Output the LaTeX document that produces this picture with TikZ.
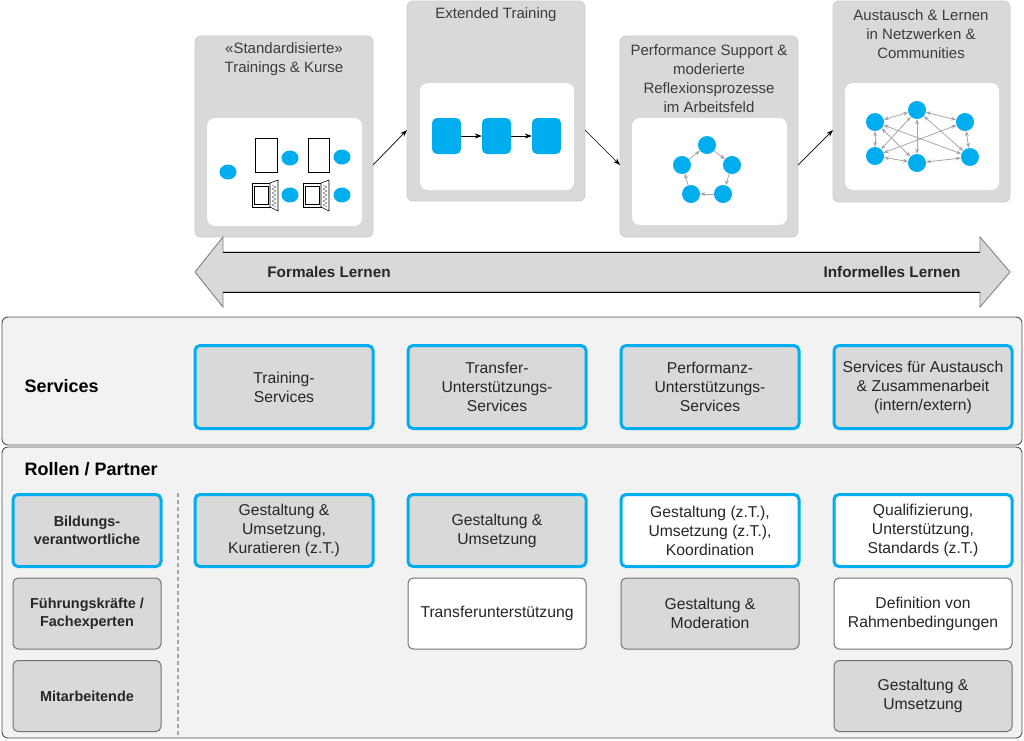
\documentclass[tikz,border=0pt]{standalone}
\usepackage{fontspec}
\setmainfont{Liberation Sans}
\usetikzlibrary{arrows.meta,shapes.geometric}
\definecolor{cy}{HTML}{00AEEF}
\definecolor{lg}{HTML}{D9D9D9}
\definecolor{pb}{HTML}{CCCCCC}
\definecolor{bg}{HTML}{F2F2F2}
\definecolor{bd}{HTML}{4D4D4D}
\definecolor{tx}{HTML}{262626}
\definecolor{ar}{HTML}{A6A6A6}
\begin{document}
\begin{tikzpicture}[x=1pt,y=-1pt,
  panel/.style={fill=lg,draw=pb,line width=0.8pt,rounded corners=6pt},
  innerbox/.style={fill=white,draw=none,rounded corners=8pt},
  ttl/.style={text=tx!90,align=center,font=\fontsize{15}{19}\selectfont},
  dot/.style={circle,fill=cy,inner sep=0pt,minimum size=18pt},
  edot/.style={ellipse,fill=cy,inner sep=0pt,minimum width=17pt,minimum height=15pt},
  sq/.style={fill=cy,rounded corners=5pt,minimum width=29pt,minimum height=36pt,inner sep=0pt},
  net/.style={ar,line width=0.8pt,{Stealth[length=5pt,width=4pt]}-{Stealth[length=5pt,width=4pt]}},
  cyc/.style={ar,line width=0.8pt,-{Stealth[length=5pt,width=4pt]}},
  flow/.style={black,line width=0.7pt,-{Stealth[length=7pt,width=5pt]}},
  bigbox/.style={fill=bg,draw=bd,line width=0.9pt,rounded corners=6pt},
  head/.style={font=\bfseries\fontsize{18}{22}\selectfont,text=black,anchor=west},
  txt/.style={align=center,text=tx,font=\fontsize{15.7}{19}\selectfont,inner sep=0pt},
  svc/.style={txt,draw=cy,line width=3pt,fill=lg,rounded corners=5pt,minimum width=178pt,minimum height=83pt},
  bluegray/.style={txt,draw=cy,line width=3pt,fill=lg,rounded corners=5pt,minimum width=178pt,minimum height=72pt},
  bluewhite/.style={txt,draw=cy,line width=3pt,fill=white,rounded corners=5pt,minimum width=178pt,minimum height=72pt},
  graybox/.style={txt,draw=bd!80,line width=1pt,fill=lg,rounded corners=5pt,minimum width=178pt,minimum height=71pt},
  whitebox/.style={txt,draw=bd!80,line width=1pt,fill=white,rounded corners=5pt,minimum width=178pt,minimum height=71pt},
  rolebox/.style={font=\bfseries\fontsize{14.4}{18}\selectfont,minimum width=148pt},
  book/.pic={
    \draw[black,line width=0.6pt] (0,0) rectangle (18,24);
    \draw[black,line width=0.6pt] (2,3) rectangle (16,21);
    \draw[black,line width=0.6pt,fill=white] (18,0) -- (26,-3) -- (26,28) -- (18,24) -- cycle;
    \draw[black!70,line width=0.4pt] (20,2) -- (24,4) -- (20,6) -- (24,8) -- (20,10) -- (24,12) -- (20,14) -- (24,16) -- (20,18) -- (24,20) -- (20,22) -- (24,24);
  }
]
\useasboundingbox (0,0) rectangle (1024,740);

% ---------- top panels ----------
\draw[panel] (195,36) rectangle (373,237);
\draw[panel] (407,1) rectangle (585,201);
\draw[panel] (620,36) rectangle (798,237);
\draw[panel] (833,1) rectangle (1010,202);
\fill[innerbox] (207,118) rectangle (362,226);
\fill[innerbox] (420,83) rectangle (574,190);
\fill[innerbox] (632,118) rectangle (787,225);
\fill[innerbox] (845,83) rectangle (999,190);

\node[ttl] (t1) at (284,59) {«Standardisierte»\\Trainings \& Kurse};
\node[ttl] (t2) at (496,15) {Extended Training};
\node[ttl] (t3) at (709,79) {Performance Support \&\\moderierte\\Reflexionsprozesse\\im Arbeitsfeld};
\node[ttl] (t4) at (921,34) {Austausch \& Lernen\\in Netzwerken \&\\Communities};

% panel 1 icons
\node[edot] (c0) at (228,172) {};
\node[edot] (c1) at (290,158) {};
\node[edot] (c2) at (342,157) {};
\node[edot] (c3) at (290,195) {};
\node[edot] (c4) at (342,195) {};
\draw[black,line width=0.8pt] (255,138) rectangle (277,172);
\draw[black,line width=0.8pt] (308,138) rectangle (329,172);
\pic at (252,183) {book};
\pic at (303,183) {book};

% panel 2
\node[sq] (s1) at (446.5,136) {};
\node[sq] (s2) at (496.5,136) {};
\node[sq] (s3) at (546.5,136) {};
\draw[flow] (s1) -- (s2);
\draw[flow] (s2) -- (s3);

% panel 3 cycle
\node[dot] (p1) at (707,145) {};
\node[dot] (p2) at (732,165) {};
\node[dot] (p3) at (723,194) {};
\node[dot] (p4) at (691,194) {};
\node[dot] (p5) at (682,165) {};
\draw[cyc] (p1) -- (p2);
\draw[cyc] (p2) -- (p3);
\draw[cyc] (p3) -- (p4);
\draw[cyc] (p4) -- (p5);
\draw[cyc] (p5) -- (p1);

% panel 4 network
\node[dot] (nA) at (875,122) {};
\node[dot] (nB) at (917,110) {};
\node[dot] (nC) at (965,122) {};
\node[dot] (nD) at (875,156) {};
\node[dot] (nE) at (917,163) {};
\node[dot] (nF) at (970,157) {};
\draw[net] (nA) -- (nB);
\draw[net] (nB) -- (nC);
\draw[net] (nA) -- (nD);
\draw[net] (nB) -- (nE);
\draw[net] (nC) -- (nF);
\draw[net] (nD) -- (nE);
\draw[net] (nE) -- (nF);
\draw[net] (nA) -- (nE);
\draw[net] (nA) -- (nF);
\draw[net] (nB) -- (nD);
\draw[net] (nB) -- (nF);
\draw[net] (nC) -- (nD);

% flow arrows between panels
\coordinate (a1s) at (373,165); \coordinate (a1e) at (407,130);
\coordinate (a2s) at (585,130); \coordinate (a2e) at (620,165);
\coordinate (a3s) at (798,165); \coordinate (a3e) at (833,130);
\draw[flow] (a1s) -- (a1e);
\draw[flow] (a2s) -- (a2e);
\draw[flow] (a3s) -- (a3e);

% ---------- big double arrow ----------
\draw[fill=lg,draw=bd!70,line width=0.9pt,line join=miter]
  (195,272) -- (223,237) -- (223,252) -- (980,252) -- (980,237) -- (1010,272)
  -- (980,307) -- (980,292) -- (223,292) -- (223,307) -- cycle;
\draw[black,line width=1pt] (223,252) -- (980,252);
\draw[black,line width=1pt] (223,292) -- (980,292);
\node[font=\bfseries\fontsize{15.3}{19}\selectfont,text=tx] (fl) at (329,272) {Formales Lernen};
\node[font=\bfseries\fontsize{15.3}{19}\selectfont,text=tx] (il) at (892,272) {Informelles Lernen};

% ---------- services ----------
\draw[bigbox] (2,317) rectangle (1022,445);
\node[head] (svh) at (21,386) {Services};
\node[svc] (sv1) at (284,387) {Training-\\Services};
\node[svc] (sv2) at (497,387) {Transfer-\\Unterstützungs-\\Services};
\node[svc] (sv3) at (710,387) {Performanz-\\Unterstützungs-\\Services};
\node[svc] (sv4) at (923,387) {Services für Austausch\\\& Zusammenarbeit\\(intern/extern)};

% ---------- roles ----------
\draw[bigbox] (2,447) rectangle (1022,738);
\node[head] (rh) at (21,469) {Rollen / Partner};
\draw[ar,line width=2pt,dash pattern=on 4pt off 3pt] (178,493) -- (178,738);

\node[bluegray,rolebox] (r1) at (87,530.5) {Bildungs-\\verantwortliche};
\node[graybox,rolebox] (r2) at (87,613.5) {Führungskräfte /\\Fachexperten};
\node[graybox,rolebox] (r3) at (87,696) {Mitarbeitende};

\node[bluegray] (b11) at (284,530.5) {Gestaltung \&\\Umsetzung,\\Kuratieren (z.T.)};
\node[bluegray] (b21) at (497,530.5) {Gestaltung \&\\Umsetzung};
\node[whitebox] (b22) at (497,613.5) {Transferunterstützung};
\node[bluewhite] (b31) at (710,530.5) {Gestaltung (z.T.),\\Umsetzung (z.T.),\\Koordination};
\node[graybox] (b32) at (710,613.5) {Gestaltung \&\\Moderation};
\node[bluewhite] (b41) at (923,530.5) {Qualifizierung,\\Unterstützung,\\Standards (z.T.)};
\node[whitebox] (b42) at (923,613.5) {Definition von\\Rahmenbedingungen};
\node[graybox] (b43) at (923,696) {Gestaltung \&\\Umsetzung};
\end{tikzpicture}
\end{document}
